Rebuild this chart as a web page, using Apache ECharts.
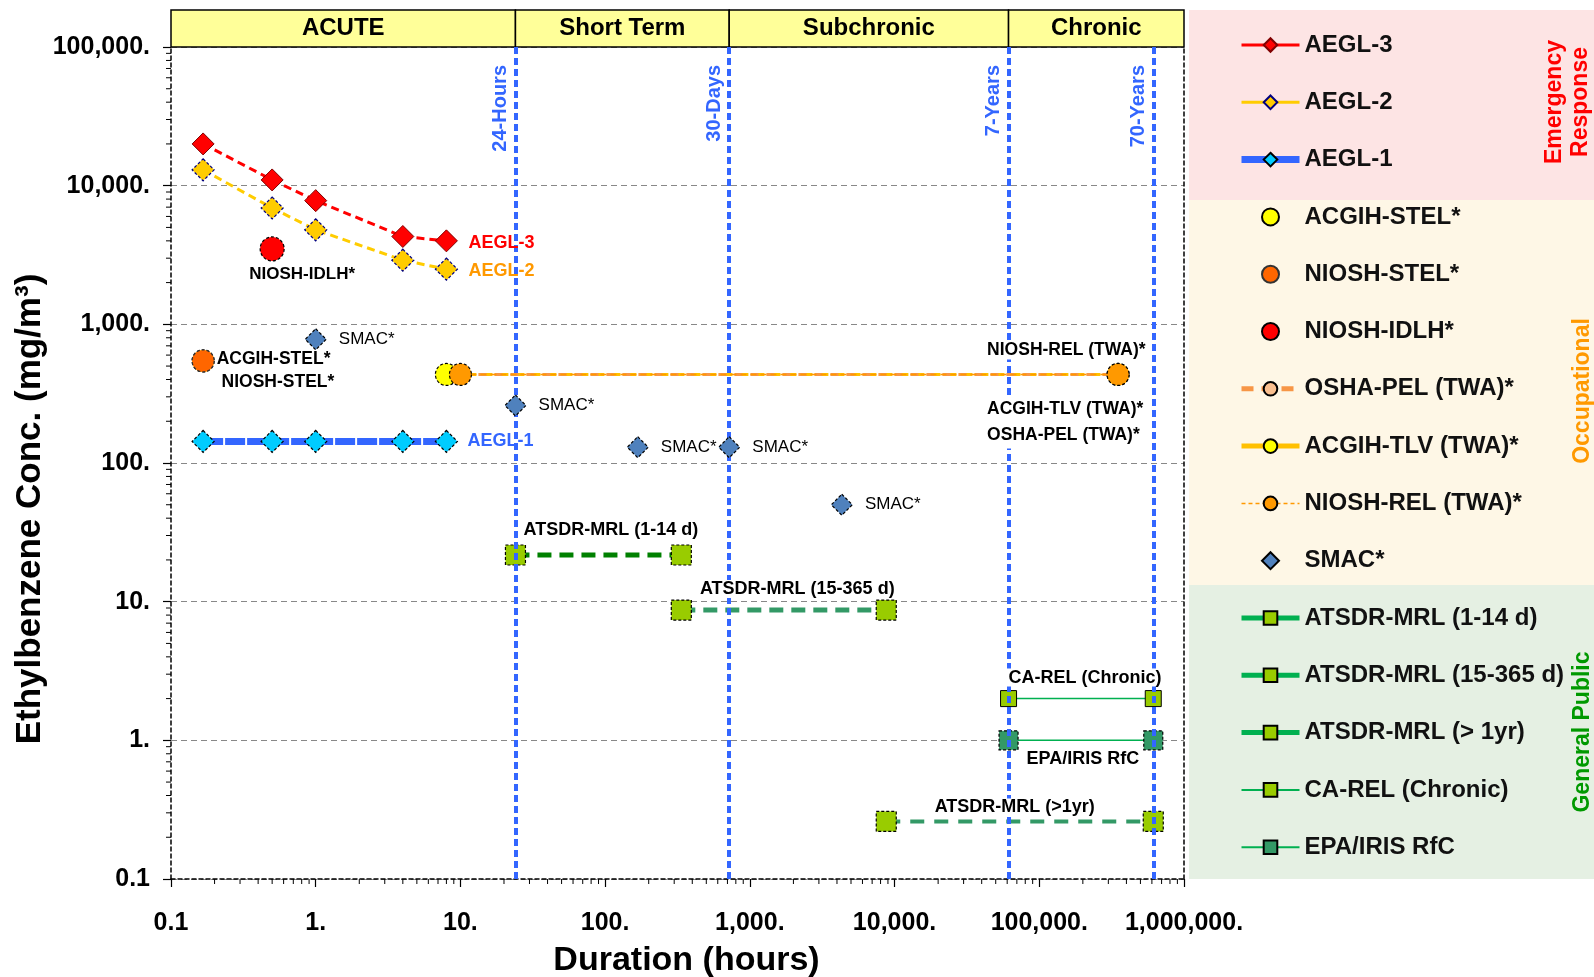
<!DOCTYPE html>
<html><head><meta charset="utf-8">
<script src="https://cdn.jsdelivr.net/npm/echarts@6/dist/echarts.min.js"></script>
<style>html,body{margin:0;padding:0;background:#fff}#c{width:1594px;height:977px}</style>
</head><body><div id="c"></div><script>
const FONT = '"Liberation Sans", Arial, sans-serif';

// ---------------- data ----------------
const aeglDurations = [0.1667, 0.5, 1, 4, 8];
const aegl3 = [20000, 11000, 7800, 4300, 4000];
const aegl2 = [13000, 6900, 4800, 2900, 2500];
const aegl1 = [143, 143, 143, 143, 143];
const stelDuration = 0.1667;
const acgihStel = 545;
const nioshStel = 545;
const idlhDuration = 0.5;
const nioshIdlh = 3500;
const twaValue = 435;
const oshaPelDurations = [8, 350400];
const acgihTlvDurations = [8, 350400];
const nioshRelDurations = [10, 350400];
const smacDurations = [1, 24, 168, 720, 4320];
const smacValues = [780, 260, 130, 130, 50];
const atsdrAcuteDurations = [24, 336];
const atsdrAcute = 21.7;
const atsdrInterDurations = [336, 8760];
const atsdrInter = 8.7;
const atsdrChronicDurations = [8760, 613200];
const atsdrChronic = 0.26;
const caRelDurations = [61320, 613200];
const caRel = 2;
const irisDurations = [61320, 613200];
const irisRfc = 1;
const refLineDurations = [24, 720, 61320, 613200];
const refLineLabels = ['24-Hours', '30-Days', '7-Years', '70-Years'];
const periodBounds = [0.1, 24, 720, 61320, 1000000];
const periodLabels = ['ACUTE', 'Short Term', 'Subchronic', 'Chronic'];
const xTickLabels = ['0.1', '1.', '10.', '100.', '1,000.', '10,000.', '100,000.', '1,000,000.'];
const yTickLabels = ['0.1', '1.', '10.', '100.', '1,000.', '10,000.', '100,000.'];
const legendNames = ['AEGL-3', 'AEGL-2', 'AEGL-1', 'ACGIH-STEL*', 'NIOSH-STEL*', 'NIOSH-IDLH*',
  'OSHA-PEL (TWA)*', 'ACGIH-TLV (TWA)*', 'NIOSH-REL (TWA)*', 'SMAC*',
  'ATSDR-MRL (1-14 d)', 'ATSDR-MRL (15-365 d)', 'ATSDR-MRL (> 1yr)', 'CA-REL (Chronic)', 'EPA/IRIS RfC'];

// ---------------- helpers ----------------
function pts(xs, ys) { return xs.map((x, i) => [x, Array.isArray(ys) ? ys[i] : ys]); }
function lab(extra) {
  return Object.assign({ show: true, fontFamily: FONT, fontWeight: 'bold', fontSize: 18, color: '#000' }, extra);
}
// text label attached to one data point (drawn as an invisible mark point)
function pointLabel(coord, labelOpts) {
  return {
    silent: true, animation: false, symbol: 'rect', symbolSize: 22,
    itemStyle: { color: 'rgba(0,0,0,0)', borderWidth: 0 },
    data: [{ coord: coord, label: lab(labelOpts) }]
  };
}
function segLabel(text, xs, y, pos, dist, extra) {
  return {
    silent: true, symbol: 'none', animation: false,
    lineStyle: { color: 'rgba(0,0,0,0)', width: 1, type: 'solid' },
    label: lab(Object.assign({ formatter: text, position: pos, distance: dist, backgroundColor: '#fff', padding: [0, 2] }, extra || {})),
    emphasis: { disabled: true },
    data: [[{ coord: [xs[0], y] }, { coord: [xs[1], y] }]]
  };
}
const dashedBorder = (c, w) => ({ borderColor: c, borderWidth: w || 1.2, borderType: [3, 2] });
const last = a => a[a.length - 1];

const chart = echarts.init(document.getElementById('c'));

const smacData = pts(smacDurations, smacValues).map(v => ({
  value: v, label: lab({ formatter: 'SMAC*', position: 'right', distance: 12, fontWeight: 'normal', fontSize: 17 })
}));

const oshaData = pts(oshaPelDurations, twaValue).map(v => ({ value: v, itemStyle: { opacity: 0 } }));

const series = [
  { name: 'AEGL-3', type: 'line', z: 5,
    data: pts(aeglDurations, aegl3),
    symbol: 'diamond', symbolSize: 22,
    itemStyle: { color: '#FF0000', borderColor: '#800000', borderWidth: 1 },
    lineStyle: { color: '#FF0000', width: 3, type: [8, 5] },
    markPoint: pointLabel([last(aeglDurations), last(aegl3)], { formatter: 'AEGL-3', position: 'right', distance: 11, offset: [0, 2], color: '#FF0000' }) },
  { name: 'AEGL-2', type: 'line', z: 4,
    data: pts(aeglDurations, aegl2),
    symbol: 'diamond', symbolSize: 22,
    itemStyle: Object.assign({ color: '#FFCC00' }, dashedBorder('#000080')),
    lineStyle: { color: '#FFCC00', width: 3, type: [8, 5] },
    markPoint: pointLabel([last(aeglDurations), last(aegl2)], { formatter: 'AEGL-2', position: 'right', distance: 11, offset: [0, 2], color: '#FF9900' }) },
  { name: 'AEGL-1', type: 'line', z: 4,
    data: pts(aeglDurations, aegl1),
    symbol: 'diamond', symbolSize: 22,
    itemStyle: Object.assign({ color: '#00CCFF' }, dashedBorder('#000')),
    lineStyle: { color: '#3366FF', width: 7, type: [20, 2] },
    markPoint: pointLabel([last(aeglDurations), last(aegl1)], { formatter: 'AEGL-1', position: 'right', distance: 10, color: '#3366FF' }) },
  { name: 'ACGIH-STEL*', type: 'scatter', z: 4,
    data: [[stelDuration, acgihStel]], symbol: 'circle', symbolSize: 22,
    itemStyle: Object.assign({ color: '#FFFF00', opacity: 1 }, dashedBorder('#000')) },
  { name: 'NIOSH-STEL*', type: 'scatter', z: 5,
    data: [{ value: [stelDuration, nioshStel],
      label: lab({ formatter: 'ACGIH-STEL*\n NIOSH-STEL*', position: 'right', distance: 2, lineHeight: 23, offset: [0, 10], fontSize: 17.5 }) }],
    symbol: 'circle', symbolSize: 22,
    itemStyle: Object.assign({ color: '#FF6600', opacity: 1 }, dashedBorder('#333')) },
  { name: 'NIOSH-IDLH*', type: 'scatter', z: 5,
    data: [{ value: [idlhDuration, nioshIdlh],
      label: lab({ formatter: 'NIOSH-IDLH*', position: 'bottom', distance: 4, offset: [30, 0], fontSize: 17 }) }],
    symbol: 'circle', symbolSize: 24,
    itemStyle: Object.assign({ color: '#FF0000', opacity: 1 }, dashedBorder('#000')) },
  { name: 'OSHA-PEL (TWA)*', type: 'line', z: 2,
    data: oshaData, symbol: 'circle', symbolSize: 20,
    itemStyle: Object.assign({ color: '#FAC090' }, dashedBorder('#000')),
    lineStyle: { color: '#F79646', width: 3, type: [10, 6] } },
  { name: 'ACGIH-TLV (TWA)*', type: 'line', z: 3,
    data: pts(acgihTlvDurations, twaValue),
    symbol: 'circle', symbolSize: 22,
    itemStyle: Object.assign({ color: '#FFFF00' }, dashedBorder('#000')),
    lineStyle: { color: '#FFC000', width: 3, type: [6, 10], dashOffset: 8 },
    markPoint: pointLabel([last(acgihTlvDurations), twaValue],
      { formatter: 'ACGIH-TLV (TWA)*\nOSHA-PEL (TWA)*', position: [-121, 33], lineHeight: 26, align: 'left', verticalAlign: 'top',
        fontSize: 17.5, backgroundColor: '#fff', padding: [0, 1] }) },
  { name: 'NIOSH-REL (TWA)*', type: 'line', z: 4,
    data: pts(nioshRelDurations, twaValue),
    symbol: 'circle', symbolSize: 22,
    itemStyle: Object.assign({ color: '#FF9900' }, dashedBorder('#000')),
    lineStyle: { color: '#FF9900', width: 1.5, type: [6, 4] },
    markPoint: pointLabel([last(nioshRelDurations), twaValue],
      { formatter: 'NIOSH-REL (TWA)*', position: [-121, -13], align: 'left', verticalAlign: 'middle',
        fontSize: 17.5, backgroundColor: '#fff', padding: [0, 1] }) },
  { name: 'SMAC*', type: 'scatter', z: 5,
    data: smacData, symbol: 'diamond', symbolSize: 21,
    itemStyle: Object.assign({ color: '#4F81BD', opacity: 1 }, dashedBorder('#000')) },
  { name: 'ATSDR-MRL (1-14 d)', type: 'line', z: 4,
    data: pts(atsdrAcuteDurations, atsdrAcute), symbol: 'rect', symbolSize: 20,
    itemStyle: Object.assign({ color: '#99CC00' }, dashedBorder('#000')),
    lineStyle: { color: '#008000', width: 5, type: [14, 8] },
    markLine: segLabel('ATSDR-MRL (1-14 d)', atsdrAcuteDurations, atsdrAcute, 'insideMiddleTop', 16,
      { backgroundColor: 'transparent', padding: [0, 0, 0, 25] }) },
  { name: 'ATSDR-MRL (15-365 d)', type: 'line', z: 4,
    data: pts(atsdrInterDurations, atsdrInter), symbol: 'rect', symbolSize: 20,
    itemStyle: Object.assign({ color: '#99CC00' }, dashedBorder('#000')),
    lineStyle: { color: '#339966', width: 5, type: [14, 8] },
    markLine: segLabel('ATSDR-MRL (15-365 d)', atsdrInterDurations, atsdrInter, 'insideMiddleTop', 12,
      { padding: [0, 2, 0, 29] }) },
  { name: 'ATSDR-MRL (> 1yr)', type: 'line', z: 4,
    data: pts(atsdrChronicDurations, atsdrChronic), symbol: 'rect', symbolSize: 20,
    itemStyle: Object.assign({ color: '#99CC00' }, dashedBorder('#000')),
    lineStyle: { color: '#339966', width: 4, type: [14, 10] },
    markLine: segLabel('ATSDR-MRL (>1yr)', atsdrChronicDurations, atsdrChronic, 'insideMiddleTop', 5,
      { padding: [0, 12, 0, 2] }) },
  { name: 'CA-REL (Chronic)', type: 'line', z: 4,
    data: pts(caRelDurations, caRel), symbol: 'rect', symbolSize: 16,
    itemStyle: { color: '#99CC00', borderColor: '#000', borderWidth: 1 },
    lineStyle: { color: '#00B050', width: 1.5 },
    markLine: segLabel('CA-REL (Chronic)', caRelDurations, caRel, 'insideMiddleTop', 12,
      { padding: [0, 2, 0, 10] }) },
  { name: 'EPA/IRIS RfC', type: 'line', z: 4,
    data: pts(irisDurations, irisRfc), symbol: 'rect', symbolSize: 19,
    itemStyle: Object.assign({ color: '#339966' }, dashedBorder('#000')),
    lineStyle: { color: '#00B050', width: 1.5 },
    markLine: segLabel('EPA/IRIS RfC', irisDurations, irisRfc, 'insideMiddleBottom', 10,
      { padding: [0, 2, 0, 6] }) },
  { name: 'refLines', type: 'line', data: [], z: 1,
    markLine: {
      silent: true, symbol: 'none', animation: false,
      lineStyle: { color: '#3366FF', width: 4, type: [7, 4] },
      label: lab({ position: 'insideEndTop', color: '#3366FF', fontSize: 20, distance: [18, 5] }),
      data: refLineDurations.map((d, i) => ({ xAxis: d, label: { formatter: refLineLabels[i] } }))
    } },
  { name: 'periods', type: 'line', data: [], xAxisIndex: 1, yAxisIndex: 1,
    markArea: {
      silent: true, animation: false,
      itemStyle: { color: '#FFFF99', borderColor: '#000', borderWidth: 1.5 },
      label: lab({ position: 'inside', fontSize: 24 }),
      data: periodLabels.map((l, i) => [{ name: l, xAxis: periodBounds[i] }, { xAxis: periodBounds[i + 1] }])
    } }
];

const legendStyles = {
  'AEGL-3': { lineStyle: { type: 'solid', width: 3 } },
  'AEGL-2': { lineStyle: { type: 'solid', width: 3 } },
  'AEGL-1': { lineStyle: { type: 'solid', width: 7 } },
  'OSHA-PEL (TWA)*': { lineStyle: { type: [12, 8], width: 5 } },
  'ACGIH-TLV (TWA)*': { lineStyle: { type: 'solid', width: 5 } },
  'NIOSH-REL (TWA)*': { lineStyle: { type: [4, 3], width: 1.5 } },
  'SMAC*': { icon: 'path://M0,-10L10,0L0,10L-10,0Z' },
  'ATSDR-MRL (1-14 d)': { lineStyle: { type: 'solid', width: 5, color: '#00B050' } },
  'ATSDR-MRL (15-365 d)': { lineStyle: { type: 'solid', width: 5, color: '#00B050' } },
  'ATSDR-MRL (> 1yr)': { lineStyle: { type: 'solid', width: 5, color: '#00B050' } }
};

const axisText = { fontFamily: FONT, fontWeight: 'bold', fontSize: 25, color: '#000' };
const dashedAxis = { show: true, lineStyle: { color: '#000', width: 1.5, type: [4, 3] } };

const option = {
  backgroundColor: '#fff',
  animation: false,
  grid: [
    { left: 171, right: 410, top: 47, bottom: 98, outerBoundsMode: 'none' },
    { left: 171, right: 410, top: 10, height: 37, outerBoundsMode: 'none' }
  ],
  xAxis: [
    { type: 'log', logBase: 10, min: 0.1, max: 1000000, gridIndex: 0,
      axisLine: dashedAxis,
      axisTick: { show: true, length: 8, lineStyle: { color: '#000', width: 1.2 } },
      splitLine: { show: false },
      axisLabel: Object.assign({ margin: 32, formatter: v => xTickLabels[Math.round(Math.log10(v)) + 1] }, axisText),
      name: 'Duration (hours)', nameLocation: 'middle', nameGap: 65, nameMoveOverlap: false,
      nameTextStyle: { fontFamily: FONT, fontWeight: 'bold', fontSize: 34, color: '#000', padding: [0, 0, 0, 18] } },
    { type: 'log', logBase: 10, min: 0.1, max: 1000000, gridIndex: 1, show: false }
  ],
  yAxis: [
    { type: 'log', logBase: 10, min: 0.1, max: 100000, gridIndex: 0,
      axisLine: dashedAxis,
      axisTick: { show: true, length: 8, lineStyle: { color: '#000', width: 1.2 } },
      splitLine: { show: true, lineStyle: { color: '#888', width: 1.2, type: [6, 4] } },
      axisLabel: Object.assign({ margin: 21, formatter: v => yTickLabels[Math.round(Math.log10(v)) + 1] }, axisText),
      name: 'Ethylbenzene Conc. (mg/m³)', nameLocation: 'middle', nameGap: 123, nameMoveOverlap: false,
      nameTextStyle: { fontFamily: FONT, fontWeight: 'bold', fontSize: 35, color: '#000', padding: [0, 92, 0, 0] } },
    { type: 'value', min: 0, max: 1, gridIndex: 1, show: false },
    { type: 'log', logBase: 10, min: 0.1, max: 100000, gridIndex: 0, position: 'right',
      axisLine: dashedAxis, axisTick: { show: false }, axisLabel: { show: false }, splitLine: { show: false } }
  ],
  legend: {
    orient: 'vertical', left: 1233, top: 28, itemWidth: 58, itemHeight: 17, itemGap: 33.3,
    selectedMode: false,
    textStyle: { fontFamily: FONT, fontWeight: 'bold', fontSize: 24, color: '#111', lineHeight: 24 },
    data: legendNames.map(n => Object.assign({ name: n }, legendStyles[n] || {}))
  },
  graphic: [
    { type: 'rect', z: -10, shape: { x: 1189, y: 10, width: 405, height: 190 }, style: { fill: '#FDE4E4' } },
    { type: 'rect', z: -10, shape: { x: 1189, y: 200, width: 405, height: 385 }, style: { fill: '#FEF7E6' } },
    { type: 'rect', z: -10, shape: { x: 1189, y: 585, width: 405, height: 294 }, style: { fill: '#E5F0E3' } },
    { type: 'text', x: 1568, y: 102, rotation: Math.PI / 2,
      style: { text: 'Emergency\nResponse', fill: '#FF0000', font: 'bold 23px ' + FONT, textAlign: 'center', textVerticalAlign: 'middle', lineHeight: 26 } },
    { type: 'text', x: 1583, y: 391, rotation: Math.PI / 2,
      style: { text: 'Occupational', fill: '#FF9900', font: 'bold 23px ' + FONT, textAlign: 'center', textVerticalAlign: 'middle' } },
    { type: 'text', x: 1583, y: 732, rotation: Math.PI / 2,
      style: { text: 'General Public', fill: '#009900', font: 'bold 23px ' + FONT, textAlign: 'center', textVerticalAlign: 'middle' } }
  ],
  series: series
};

chart.setOption(option);

// minor log ticks (axis decoration)
const minor = [];
const yBottom = chart.convertToPixel({ yAxisIndex: 0 }, 0.1);
const xLeft = chart.convertToPixel({ xAxisIndex: 0 }, 0.1);
for (let k = -1; k < 6; k++) {
  for (let m = 2; m < 10; m++) {
    const px = chart.convertToPixel({ xAxisIndex: 0 }, m * Math.pow(10, k));
    minor.push({ type: 'line', z: 10, silent: true, shape: { x1: px, y1: yBottom, x2: px, y2: yBottom + 5 }, style: { stroke: '#000', lineWidth: 1 } });
  }
}
for (let k = -1; k < 5; k++) {
  for (let m = 2; m < 10; m++) {
    const py = chart.convertToPixel({ yAxisIndex: 0 }, m * Math.pow(10, k));
    minor.push({ type: 'line', z: 10, silent: true, shape: { x1: xLeft - 5, y1: py, x2: xLeft, y2: py }, style: { stroke: '#000', lineWidth: 1 } });
  }
}
chart.setOption({ graphic: option.graphic.concat(minor) });
</script></body></html>
